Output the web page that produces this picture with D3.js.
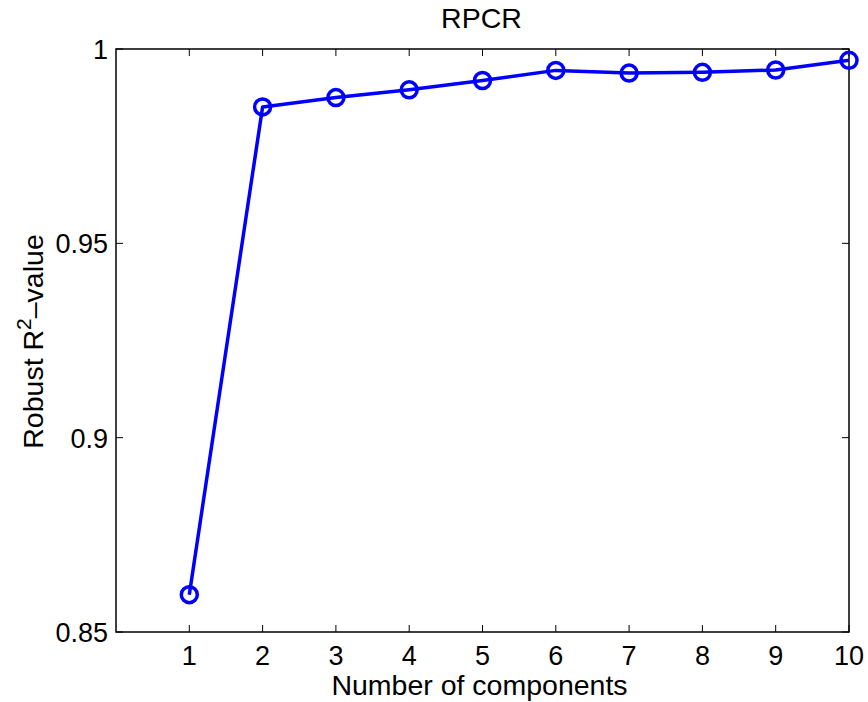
<!DOCTYPE html>
<html><head><meta charset="utf-8">
<script src="https://cdn.jsdelivr.net/npm/d3@7"></script>
<style>body{margin:0;background:#fff}svg{display:block}text{font-family:"Liberation Sans",Arial,sans-serif;fill:#000}</style>
</head><body>
<svg id="c" width="868" height="702"></svg>
<script>
const components = [1,2,3,4,5,6,7,8,9,10];
const r2values = [0.8596,0.9851,0.9875,0.9895,0.9919,0.9945,0.9938,0.9940,0.9946,0.9971];
const xTicks = [1,2,3,4,5,6,7,8,9,10];
const yTicks = [0.85,0.9,0.95,1];
const yTickLabels = ["0.85","0.9","0.95","1"];
const title = "RPCR";
const xLabel = "Number of components";

const svg = d3.select("#c");
const L=116, R=849, T=49, B=632;
const x = d3.scaleLinear().domain([0,10]).range([L,R]);
const y = d3.scaleLinear().domain([0.85,1]).range([B,T]);
const fs = 27, lfs = 28.5, tl = 7;

const g = svg.append("g");
g.append("rect").attr("x",L).attr("y",T).attr("width",R-L).attr("height",B-T)
 .attr("fill","none").attr("stroke","#000").attr("stroke-width",1.5);

xTicks.forEach(v=>{
  g.append("line").attr("x1",x(v)).attr("x2",x(v)).attr("y1",B).attr("y2",B-tl).attr("stroke","#000");
  g.append("line").attr("x1",x(v)).attr("x2",x(v)).attr("y1",T).attr("y2",T+tl).attr("stroke","#000");
  g.append("text").attr("x",x(v)).attr("y",B+33).attr("text-anchor","middle").attr("font-size",fs).text(v);
});
yTicks.forEach((v,i)=>{
  g.append("line").attr("x1",L).attr("x2",L+tl).attr("y1",y(v)).attr("y2",y(v)).attr("stroke","#000");
  g.append("line").attr("x1",R).attr("x2",R-tl).attr("y1",y(v)).attr("y2",y(v)).attr("stroke","#000");
  g.append("text").attr("x",L-8).attr("y",y(v)+10).attr("text-anchor","end").attr("font-size",fs).text(yTickLabels[i]);
});

svg.append("text").attr("x",(L+R)/2-1).attr("y",28).attr("text-anchor","middle").attr("font-size",lfs).text(title);
svg.append("text").attr("x",(L+R)/2-3).attr("y",695).attr("text-anchor","middle").attr("font-size",lfs).text(xLabel);
const yl = svg.append("text").attr("transform",`translate(43,${(T+B)/2+1}) rotate(-90)`).attr("text-anchor","middle").attr("font-size",lfs);
yl.append("tspan").text("Robust R");
yl.append("tspan").attr("dy",-12).attr("font-size",21).text("2");
yl.append("tspan").attr("dy",12).text("\u2013value");

const data = components.map((c,i)=>({c, v:r2values[i]}));
svg.append("path").datum(data)
  .attr("d", d3.line().x(d=>x(d.c)).y(d=>y(d.v)))
  .attr("fill","none").attr("stroke","#0000ff").attr("stroke-width",3.5).attr("stroke-linejoin","round");
svg.selectAll("circle.m").data(data).enter().append("circle").attr("class","m")
  .attr("cx",d=>x(d.c)).attr("cy",d=>y(d.v)).attr("r",8)
  .attr("fill","none").attr("stroke","#0000ff").attr("stroke-width",3.5);
</script>
</body></html>
